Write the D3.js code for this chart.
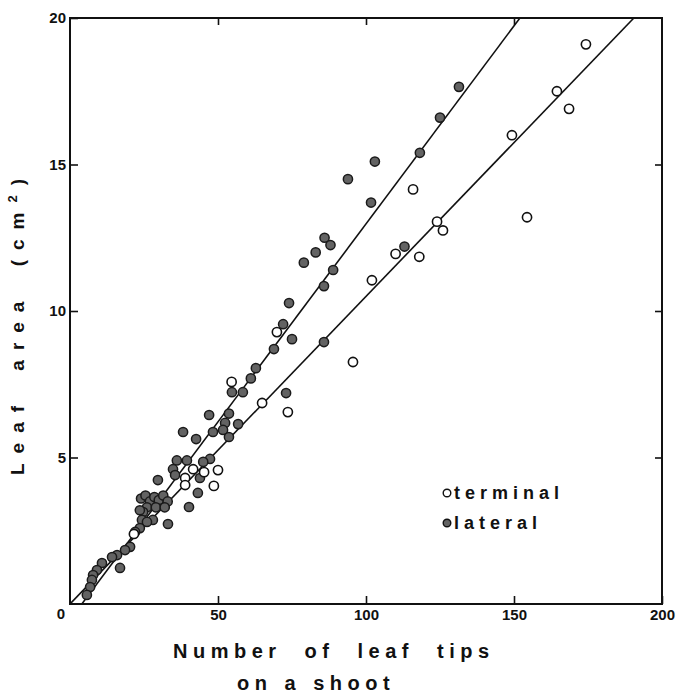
<!DOCTYPE html>
<html>
<head>
<meta charset="utf-8">
<script src="https://cdn.jsdelivr.net/npm/d3@7"></script>
<style>
  body { margin: 0; background: #fff; }
  svg { display: block; font-family: "Liberation Sans", Arial, sans-serif; }
</style>
</head>
<body>
<div id="chart"></div>
<script>
// terminal shoots (open circles)
const terminalX = [174.3, 164.5, 168.6, 149.3, 154.4, 115.9, 124, 126, 110, 118, 102, 95.6,
  73.6, 64.9, 69.9, 54.6, 41.6, 45.3, 50, 38.9, 48.6, 38.9, 21.6];
const terminalY = [19.1, 17.5, 16.9, 16.0, 13.2, 14.15, 13.05, 12.75, 11.95, 11.85, 11.05, 8.26,
  6.55, 6.86, 9.28, 7.58, 4.6, 4.5, 4.57, 4.3, 4.03, 4.06, 2.39];

// lateral shoots (filled circles)
const lateralX = [131.4, 125, 118.2, 103, 93.9, 101.7, 113, 86, 83, 88, 79, 88.9, 85.8, 74, 72, 75,
  68.9, 85.8, 73, 62.8, 61.1, 58.4, 54.7, 56.8, 53.7, 52.4, 51.7, 53.7, 47, 48.3, 42.6, 38.2,
  47.3, 45, 39.5, 36.1, 34.8, 35.5, 29.7, 43.9, 43.2, 40.2, 33.1,
  24, 25.5, 27, 28.5, 30, 31.5, 33, 26, 29, 32, 24.7, 23.6,
  24.3, 28, 26, 23.6, 22, 20.3, 18.6, 15.9, 14.2, 16.9, 10.8, 9.1, 7.8, 7.4, 6.8, 5.7];
const lateralY = [17.65, 16.6, 15.4, 15.1, 14.5, 13.7, 12.2, 12.5, 12.0, 12.25, 11.65, 11.4, 10.85, 10.27, 9.55, 9.04,
  8.7, 8.94, 7.2, 8.05, 7.7, 7.23, 7.23, 6.14, 6.5, 6.18, 5.94, 5.7, 6.45, 5.87, 5.63, 5.87,
  4.95, 4.85, 4.9, 4.9, 4.6, 4.4, 4.23, 4.3, 3.79, 3.31, 2.73,
  3.6, 3.7, 3.5, 3.65, 3.55, 3.7, 3.5, 3.3, 3.3, 3.3, 3.14, 3.2,
  2.87, 2.87, 2.8, 2.59, 2.46, 1.95, 1.84, 1.67, 1.6, 1.23, 1.4, 1.16, 0.99, 0.82, 0.58, 0.31];

// fitted lines, [x, y] at each end
const lateralLine = [[4, 0], [152, 20]];
const terminalLine = [[0, 0], [190.5, 20]];

const xTicks = [50, 100, 150, 200];
const yTicks = [5, 10, 15, 20];

const W = 678, H = 694;
const svg = d3.select("#chart").append("svg")
    .attr("width", W)
    .attr("height", H);

const x = d3.scaleLinear().domain([0, 200]).range([70, 662]);
const y = d3.scaleLinear().domain([0, 20]).range([604, 18]);

// clip so the lines stop at the frame
svg.append("clipPath").attr("id", "plot")
  .append("rect")
    .attr("x", x(0)).attr("y", y(20))
    .attr("width", x(200) - x(0)).attr("height", y(0) - y(20));

// axes, ticks pointing inward
const bottom = svg.append("g")
    .attr("transform", "translate(0," + y(0) + ")")
    .call(d3.axisBottom(x).tickValues(xTicks).tickSize(-8).tickSizeOuter(0).tickPadding(5));
const left = svg.append("g")
    .attr("transform", "translate(" + x(0) + ",0)")
    .call(d3.axisLeft(y).tickValues(yTicks).tickSize(-8).tickSizeOuter(0).tickPadding(4));
svg.append("g")
    .attr("transform", "translate(0," + y(20) + ")")
    .call(d3.axisTop(x).tickValues([50, 100, 150]).tickSize(-7).tickSizeOuter(0).tickFormat(""));
svg.append("g")
    .attr("transform", "translate(" + x(200) + ",0)")
    .call(d3.axisRight(y).tickValues([5, 10, 15]).tickSize(-7).tickSizeOuter(0).tickFormat(""));

svg.selectAll(".domain").remove();
svg.selectAll(".tick line").attr("stroke", "#111").attr("stroke-width", 1.6);
[bottom, left].forEach(function(g) {
  g.selectAll("text")
    .attr("fill", "#111")
    .style("font-size", "15px")
    .style("font-weight", "bold");
});

// frame
svg.append("rect")
    .attr("x", x(0)).attr("y", y(20))
    .attr("width", x(200) - x(0)).attr("height", y(0) - y(20))
    .attr("fill", "none")
    .attr("stroke", "#111")
    .attr("stroke-width", 2);

// origin label
svg.append("text")
    .attr("x", x(0) - 9).attr("y", y(0) + 15)
    .attr("text-anchor", "middle")
    .style("font-size", "15px").style("font-weight", "bold")
    .attr("fill", "#111")
    .text("0");

// regression lines
const line = d3.line().x(function(d) { return x(d[0]); }).y(function(d) { return y(d[1]); });
[lateralLine, terminalLine].forEach(function(l) {
  svg.append("path")
      .attr("d", line(l))
      .attr("clip-path", "url(#plot)")
      .attr("fill", "none")
      .attr("stroke", "#111")
      .attr("stroke-width", 1.6);
});

// points
const lateral = lateralX.map(function(v, i) { return [v, lateralY[i]]; });
const terminal = terminalX.map(function(v, i) { return [v, terminalY[i]]; });

svg.append("g").selectAll("circle")
  .data(lateral)
  .enter().append("circle")
    .attr("cx", function(d) { return x(d[0]); })
    .attr("cy", function(d) { return y(d[1]); })
    .attr("r", 4.6)
    .attr("fill", "#636363")
    .attr("stroke", "#1a1a1a")
    .attr("stroke-width", 1.5);

svg.append("g").selectAll("circle")
  .data(terminal)
  .enter().append("circle")
    .attr("cx", function(d) { return x(d[0]); })
    .attr("cy", function(d) { return y(d[1]); })
    .attr("r", 4.6)
    .attr("fill", "#fff")
    .attr("stroke", "#111")
    .attr("stroke-width", 1.6);

// legend
const legendItems = ["terminal", "lateral"];
const legend = svg.selectAll(".legend")
  .data(legendItems)
  .enter().append("g")
    .attr("class", "legend")
    .attr("transform", function(d, i) { return "translate(447," + (493 + i * 30) + ")"; });

legend.append("circle")
    .attr("r", 3.8)
    .attr("fill", function(d, i) { return i === 0 ? "#fff" : "#636363"; })
    .attr("stroke", "#111")
    .attr("stroke-width", 1.4);

legend.append("text")
    .attr("x", 7)
    .attr("y", 6)
    .style("font-size", "18px")
    .style("font-weight", "bold")
    .style("letter-spacing", "5px")
    .attr("fill", "#111")
    .text(function(d) { return d; });

// axis titles
svg.append("text")
    .attr("x", 173).attr("y", 658)
    .style("font-size", "20px").style("font-weight", "bold")
    .style("letter-spacing", "5.5px").style("word-spacing", "12px")
    .attr("fill", "#111")
    .text("Number of leaf tips");
svg.append("text")
    .attr("x", 237).attr("y", 690)
    .style("font-size", "20px").style("font-weight", "bold")
    .style("letter-spacing", "5.5px").style("word-spacing", "1px")
    .attr("fill", "#111")
    .text("on a shoot");

const yTitle = svg.append("text")
    .attr("transform", "translate(24,475) rotate(-90)")
    .style("font-size", "19px").style("font-weight", "bold")
    .style("letter-spacing", "10px").style("word-spacing", "10px")
    .attr("fill", "#111");
yTitle.append("tspan").text("Leaf area (cm");
yTitle.append("tspan").attr("dy", -7).style("font-size", "13px").text("2");
yTitle.append("tspan").attr("dy", 7).text(")");
</script>
</body>
</html>
